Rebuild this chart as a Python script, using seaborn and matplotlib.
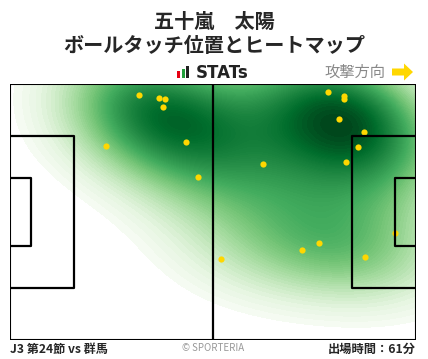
import matplotlib
matplotlib.use('Agg')
import matplotlib.pyplot as plt
import matplotlib.patches as patches
import seaborn as sns

sns.set_style('white')
plt.rcParams['font.family'] = ['Noto Sans CJK JP', 'DejaVu Sans']

# ボールタッチ位置 (m, ピッチ 105 x 68)
touch_x = [33.4, 38.6, 40.2, 39.6, 24.7, 45.6, 48.7, 82.3, 86.4, 86.4,
           85.2, 91.6, 90.1, 87.0, 65.5, 54.6, 75.6, 80.0, 91.9, 99.6]
touch_y = [65.0, 64.2, 63.9, 61.8, 51.4, 52.5, 43.2, 65.8, 64.7, 63.9,
           58.6, 55.2, 51.2, 47.2, 46.7, 21.4, 23.8, 25.7, 22.0, 28.5]

player = '五十嵐　太陽'
subtitle = 'ボールタッチ位置とヒートマップ'
match = 'J3 第24節 vs 群馬'
minutes = '出場時間：61分'

L, W = 105, 68

fig = plt.figure(figsize=(4.28, 3.59), dpi=100)
ax = fig.add_axes([10 / 428, 19 / 359, 406 / 428, 256 / 359])

# ヒートマップ
sns.kdeplot(x=touch_x, y=touch_y, fill=True, cmap='Greens', levels=80,
            thresh=0.03, clip=((0, L), (0, W)), gridsize=200, bw_adjust=1.25,
            ax=ax, zorder=1)

# タッチ位置
ax.scatter(touch_x, touch_y, s=20, color='#ffd700', zorder=2, linewidths=0)

# ピッチのライン
lw = 1.6
ax.add_patch(patches.Rectangle((0, 0), L, W, fill=False, lw=1.5, ec='black', zorder=3))
ax.plot([L / 2, L / 2], [0, W], color='black', lw=lw, zorder=3)
for x0, sgn in [(0, 1), (L, -1)]:
    ax.plot([x0, x0 + sgn * 16.5, x0 + sgn * 16.5, x0],
            [W / 2 - 20.15, W / 2 - 20.15, W / 2 + 20.15, W / 2 + 20.15],
            color='black', lw=lw, zorder=3)
    ax.plot([x0, x0 + sgn * 5.5, x0 + sgn * 5.5, x0],
            [W / 2 - 9.15, W / 2 - 9.15, W / 2 + 9.15, W / 2 + 9.15],
            color='black', lw=lw, zorder=3)

ax.set_xlim(0, L)
ax.set_ylim(0, W)
ax.set_xlabel('')
ax.set_ylabel('')
ax.axis('off')

# タイトル
fig.text(0.5, 1 - 21 / 359, player, ha='center', va='center', fontsize=14.5, fontweight='bold')
fig.text(0.5, 1 - 46 / 359, subtitle, ha='center', va='center', fontsize=14.5, fontweight='bold')

# STATs ロゴ
for (bx, bh, c) in [(177, 7, '#e60012'), (181.5, 9, '#22a03c'), (186, 12, '#222222')]:
    fig.add_artist(patches.Rectangle((bx / 428, 1 - 78 / 359), 3.4 / 428, bh / 359,
                                     transform=fig.transFigure, color=c, lw=0))
fig.text(196 / 428, 1 - 72.5 / 359, 'STATs', ha='left', va='center', fontsize=12,
         fontweight='bold', color='#222222', family=['DejaVu Sans'])

# 攻撃方向
fig.text(385 / 428, 1 - 72 / 359, '攻撃方向', ha='right', va='center', fontsize=11, color='#888888')
fig.add_artist(patches.FancyArrow(392 / 428, 1 - 72 / 359, 21 / 428, 0, width=7 / 359,
                                  head_width=17 / 359, head_length=9 / 428,
                                  length_includes_head=True, transform=fig.transFigure,
                                  color='#ffd700', lw=0))

# フッター
fig.text(10 / 428, 1 - 349 / 359, match, ha='left', va='center', fontsize=8.7, fontweight='bold')
fig.text(213 / 428, 1 - 348 / 359, '© SPORTERIA', ha='center', va='center', fontsize=7, color='#999999')
fig.text(416 / 428, 1 - 349 / 359, minutes, ha='right', va='center', fontsize=8.8, fontweight='bold')

fig.savefig('out.png', dpi=100)
